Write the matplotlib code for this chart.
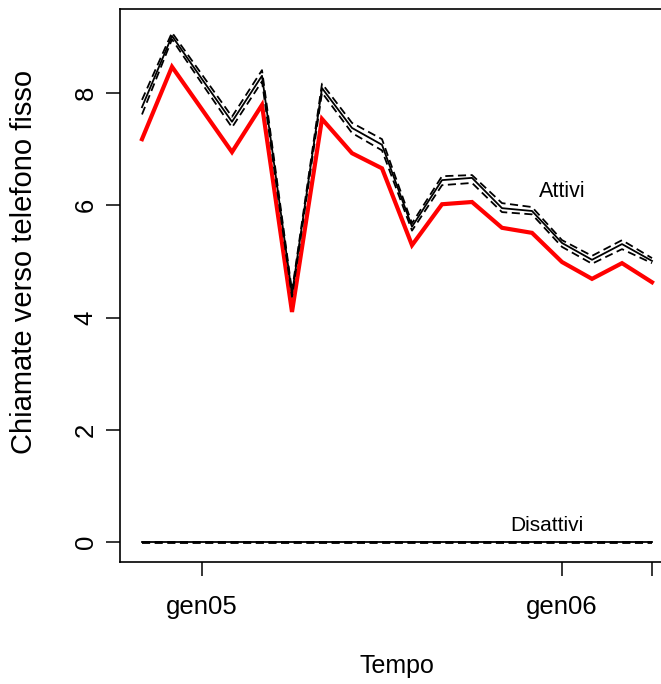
import numpy as np
import matplotlib
matplotlib.use("Agg")
import matplotlib.pyplot as plt

plt.rcParams['font.family'] = ['Liberation Sans', 'DejaVu Sans']

# months from nov04 to apr06
months = ['nov04', 'dic04', 'gen05', 'feb05', 'mar05', 'apr05', 'mag05', 'giu05', 'lug05',
          'ago05', 'set05', 'ott05', 'nov05', 'dic05', 'gen06', 'feb06', 'mar06', 'apr06']

# observed series (red)
osservati = [7.18, 8.47, 7.71, 6.95, 7.79, 4.10, 7.54, 6.93, 6.66, 5.29, 6.02, 6.06,
             5.60, 5.51, 4.99, 4.69, 4.97, 4.63]

# "Attivi" estimate with band
attivi = [7.75, 9.02, 8.25, 7.49, 8.31, 4.42, 8.09, 7.38, 7.08, 5.62, 6.45, 6.49,
          5.95, 5.90, 5.33, 5.03, 5.31, 5.01]
attivi_sup = [7.88, 9.08, 8.33, 7.58, 8.41, 4.47, 8.17, 7.47, 7.18, 5.68, 6.52, 6.54,
              6.04, 5.97, 5.38, 5.10, 5.38, 5.06]
attivi_inf = [7.62, 8.96, 8.17, 7.39, 8.21, 4.37, 8.01, 7.29, 6.98, 5.55, 6.36, 6.40,
              5.88, 5.84, 5.26, 4.96, 5.22, 4.97]

# "Disattivi" estimate with band
disattivi = [0.0] * 18
disattivi_sup = [0.0] * 18
disattivi_inf = [-0.015] * 18

x = np.arange(len(months))

fig = plt.figure(figsize=(6.61, 6.84), dpi=100)
ax = fig.add_axes([120 / 661, 1 - 562 / 684, 554 / 661, 553 / 684])

ax.plot(x, osservati, color='#ff0000', lw=3.0, solid_joinstyle='miter')
ax.plot(x, attivi, color='black', lw=1.3)
ax.plot(x, attivi_sup, color='black', lw=1.3, dashes=(4.5, 2.5))
ax.plot(x, attivi_inf, color='black', lw=1.3, dashes=(4.5, 2.5))
ax.plot(x, disattivi, color='black', lw=1.3)
ax.plot(x, disattivi_sup, color='black', lw=1.3, dashes=(4.5, 2.5))
ax.plot(x, disattivi_inf, color='black', lw=1.3, dashes=(4.5, 2.5))

ax.text(14.0, 6.25, 'Attivi', fontsize=15.5, ha='center', va='center')
ax.text(13.5, 0.30, 'Disattivi', fontsize=15, ha='center', va='center')

ax.set_xlim(-0.733, 17.733)
ax.set_ylim(-0.3565, 9.50)

ax.set_xticks([2, 14, 17])
ax.set_xticklabels(['gen05', 'gen06', ''])
ax.set_yticks([0, 2, 4, 6, 8])
ax.set_yticklabels(['0', '2', '4', '6', '8'], rotation=90, va='center')
ax.tick_params(axis='x', length=10, width=1.1, labelsize=18.5, pad=14)
ax.tick_params(axis='y', length=10, width=1.1, labelsize=18.5, pad=6)

for s in ax.spines.values():
    s.set_linewidth(1.2)

fig.text(24 / 661, 1 - 262 / 684, 'Chiamate verso telefono fisso', rotation=90,
         fontsize=21, ha='center', va='center')
fig.text(397 / 661, 1 - 666 / 684, 'Tempo', fontsize=18, ha='center', va='center')

fig.savefig('out.png', dpi=100)
